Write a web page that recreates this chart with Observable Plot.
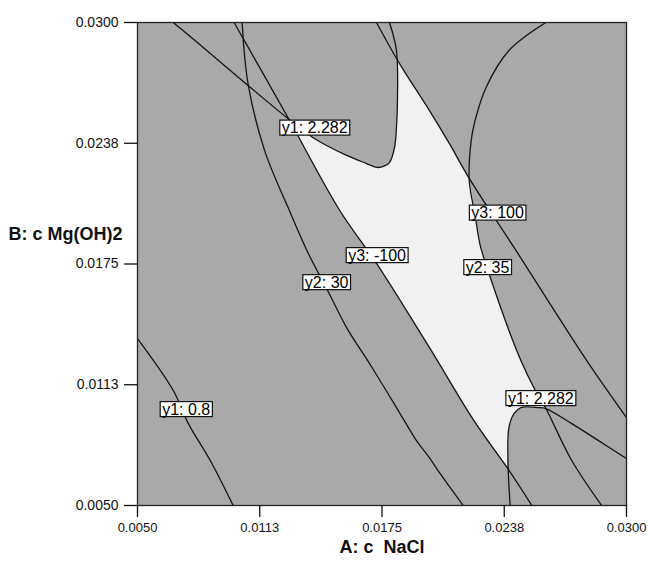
<!DOCTYPE html>
<html><head><meta charset="utf-8">
<script src="https://cdn.jsdelivr.net/npm/d3@7"></script>
<script src="https://cdn.jsdelivr.net/npm/@observablehq/plot@0.6"></script>
<style>body{margin:0;background:#fff;}</style>
</head><body><div id="chart"></div>
<script>
// axis ticks
const tickValues = [0.005, 0.01125, 0.0175, 0.02375, 0.03];
const tickLabels = ["0.0050", "0.0113", "0.0175", "0.0238", "0.0300"];
const xTitle = "A: c  NaCl";
const yTitle = "B: c Mg(OH)2";

// contour curves, points as [A, B]
const y1_08 = [[0.00500,0.01364],[0.00683,0.01095],[0.00760,0.00924],[0.00872,0.00733],[0.00989,0.00500]];
const y1_2282_upper = [[0.00683,0.03000],[0.00872,0.02840],[0.01065,0.02674],[0.01269,0.02503],[0.01396,0.02405],[0.01569,0.02312],[0.01671,0.02270],[0.01722,0.02250],[0.01758,0.02255],[0.01788,0.02275],[0.01814,0.02353],[0.01824,0.02457],[0.01829,0.02596],[0.01824,0.02855],[0.01788,0.03000]];
const y1_2282_lower = [[0.02405,0.00500],[0.02394,0.00733],[0.02399,0.00904],[0.02425,0.00976],[0.02460,0.01007],[0.02552,0.01007],[0.02588,0.01002],[0.02720,0.00924],[0.02857,0.00836],[0.03000,0.00743]];
const y2_30 = [[0.01035,0.03000],[0.01065,0.02684],[0.01150,0.02337],[0.01270,0.02042],[0.01366,0.01820],[0.01472,0.01613],[0.01569,0.01421],[0.01686,0.01235],[0.01824,0.01007],[0.01926,0.00836],[0.01992,0.00748],[0.02043,0.00671],[0.02165,0.00500]];
const y2_35 = [[0.02588,0.03000],[0.02399,0.02855],[0.02282,0.02664],[0.02226,0.02493],[0.02206,0.02389],[0.02196,0.02182],[0.02226,0.02001],[0.02252,0.01846],[0.02292,0.01716],[0.02399,0.01406],[0.02460,0.01251],[0.02526,0.01111],[0.02588,0.01002],[0.02720,0.00733],[0.02873,0.00500]];
const y3_m100 = [[0.00994,0.03000],[0.01269,0.02508],[0.01534,0.02027],[0.01722,0.01753],[0.01992,0.01318],[0.02226,0.00930],[0.02389,0.00697],[0.02516,0.00500]];
const y3_100 = [[0.01722,0.03000],[0.01839,0.02788],[0.01992,0.02545],[0.02094,0.02374],[0.02196,0.02193],[0.02435,0.01820],[0.02796,0.01251],[0.03000,0.00955]];

// feasible (white) region boundary
const feasible = [[0.01269,0.02505],[0.01396,0.02405],[0.01569,0.02312],[0.01671,0.02270],[0.01722,0.02250],[0.01758,0.02255],[0.01788,0.02275],[0.01814,0.02353],[0.01824,0.02457],[0.01829,0.02596],[0.01826,0.02814],
  [0.01992,0.02545],[0.02094,0.02374],[0.02196,0.02193],
  [0.02226,0.02001],[0.02252,0.01846],[0.02292,0.01716],[0.02399,0.01406],[0.02460,0.01251],[0.02526,0.01111],[0.02588,0.01002],
  [0.02552,0.01007],[0.02460,0.01007],[0.02425,0.00976],[0.02399,0.00904],[0.02392,0.00700],
  [0.02226,0.00930],[0.01992,0.01318],[0.01722,0.01753],[0.01534,0.02027]];

// contour labels
const labelText = ["y1: 2.282", "y1: 2.282", "y3: 100", "y2: 35", "y3: -100", "y2: 30", "y1: 0.8"];
const labelA = [0.01406, 0.02562, 0.02341, 0.02290, 0.01725, 0.01467, 0.00749];
const labelB = [0.02454, 0.01054, 0.02014, 0.01732, 0.01794, 0.01654, 0.00997];

const curves = [y1_08, y1_2282_upper, y1_2282_lower, y2_30, y2_35, y3_m100, y3_100];
const labels = labelText.map((t, i) => ({t, a: labelA[i], b: labelB[i]}));
const fmt = d => tickLabels[tickValues.indexOf(d)];

const chart = Plot.plot({
  width: 648, height: 570,
  marginLeft: 137, marginRight: 22, marginTop: 22, marginBottom: 65,
  x: {domain: [0.005, 0.03]},
  y: {domain: [0.005, 0.03]},
  style: {fontFamily: "'Liberation Sans', Arial, sans-serif", background: "white", color: "#111"},
  marks: [
    Plot.frame({fill: "#a9a9a9", stroke: "none"}),
    Plot.line(feasible, {x: d => d[0], y: d => d[1], fill: "#f1f1f1", stroke: "none"}),
    ...curves.map(c => Plot.line(c, {x: d => d[0], y: d => d[1], curve: "catmull-rom", stroke: "#141414", strokeWidth: 1.3, clip: true})),
    Plot.frame({stroke: "#222", strokeWidth: 1.3}),
    Plot.axisX({ticks: tickValues, tickFormat: fmt, tickSize: 12, tickPadding: 5, fontSize: 13, label: null, stroke: "#111", strokeWidth: 1.3}),
    Plot.axisY({ticks: tickValues, tickFormat: fmt, tickSize: 13, tickPadding: 6, fontSize: 14, label: null, stroke: "#111", strokeWidth: 1.3}),
    Plot.text(labels, {x: "a", y: "b", text: "t", fontSize: 16, fill: "#000"}),
    Plot.text([xTitle], {frameAnchor: "bottom", dy: 47, fontSize: 18, fontWeight: "bold", fill: "#111"}),
    Plot.text([yTitle], {frameAnchor: "left", dx: -129, dy: -30, textAnchor: "start", fontSize: 18, fontWeight: "bold", fill: "#111"})
  ]
});
document.getElementById("chart").append(chart);

// white boxes behind the contour labels
const svgns = "http://www.w3.org/2000/svg";
d3.select(chart).selectAll("text").each(function () {
  if (!/^y\d: /.test(this.textContent)) return;
  const b = this.getBBox();
  const r = document.createElementNS(svgns, "rect");
  r.setAttribute("x", b.x - 2);
  r.setAttribute("y", b.y + 1);
  r.setAttribute("width", b.width + 4);
  r.setAttribute("height", b.height - 2);
  r.setAttribute("fill", "white");
  r.setAttribute("stroke", "#111");
  r.setAttribute("stroke-width", 1.2);
  const tr = this.getAttribute("transform");
  if (tr) r.setAttribute("transform", tr);
  this.parentNode.insertBefore(r, this);
});
</script>
</body></html>
